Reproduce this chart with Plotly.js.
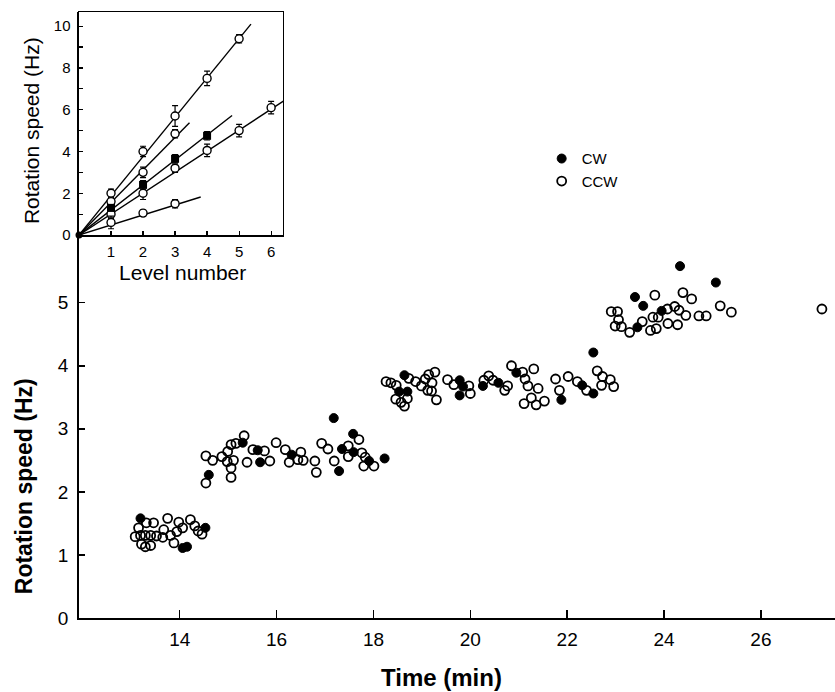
<!DOCTYPE html>
<html>
<head>
<meta charset="utf-8">
<script src="https://cdn.plot.ly/plotly-3.0.1.min.js"></script>
<style>html,body{margin:0;padding:0;background:#fff;}#chart{width:835px;height:692px;}</style>
</head>
<body>
<div id="chart"></div>
<script>
// ---- Main panel data (time in min, rotation speed in Hz) ----
const cwTime = [13.19, 14.53, 14.06, 14.15,
  14.60, 15.30, 15.61, 15.66, 16.31, 17.18, 17.29, 17.35, 17.58, 17.59, 17.91, 18.23,
  18.64, 18.53, 18.70, 19.78, 19.85, 19.78, 20.26, 20.58, 20.95, 21.88, 22.31, 22.54, 22.54,
  23.40, 23.57, 23.45, 23.95, 24.33, 25.07];
const cwSpeed = [1.58, 1.43, 1.11, 1.13,
  2.27, 2.78, 2.66, 2.47, 2.59, 3.17, 2.33, 2.68, 2.92, 2.63, 2.49, 2.53,
  3.85, 3.59, 3.59, 3.77, 3.67, 3.53, 3.68, 3.73, 3.89, 3.46, 3.69, 3.56, 4.21,
  5.09, 4.95, 4.61, 4.87, 5.58, 5.32];

const ccwTime = [13.31, 13.46, 13.75, 13.15, 13.08, 13.19, 13.29, 13.40, 13.52, 13.67, 13.65, 13.81,
  13.98, 13.94, 14.06, 14.22, 14.31, 14.38, 14.46, 13.21, 13.29, 13.40, 13.88,
  14.54, 14.54, 14.68, 14.87, 14.99, 15.06, 15.16, 15.33, 14.98, 15.11, 15.06, 15.06, 15.39,
  15.51, 15.75, 15.86, 15.99, 16.18, 16.26, 16.44, 16.50, 16.55, 16.79, 16.82, 16.93, 17.06,
  17.19, 17.48, 17.48, 17.70, 17.76, 17.83, 17.80, 18.01,
  18.26, 18.36, 18.47, 18.73, 18.87, 18.99, 19.07, 19.14, 19.27, 19.21, 19.12, 19.20, 19.30,
  18.46, 18.57, 18.70, 18.64, 19.53, 19.66, 19.97, 20.00, 20.28, 20.38, 20.47, 20.71, 20.77,
  20.85, 21.08, 21.13, 21.19, 21.31, 21.40, 21.26, 21.11, 21.36, 21.53, 21.76, 21.84, 22.02,
  22.21, 22.40, 22.62, 22.73, 22.71, 22.89, 22.96,
  22.91, 23.04, 23.06, 22.99, 23.12, 23.29, 23.55, 23.72, 23.84, 23.81, 23.77, 23.88, 24.07,
  24.22, 24.31, 24.45, 24.08, 24.28, 24.39, 24.57, 24.72, 24.87, 25.16, 25.39, 27.26];
const ccwSpeed = [1.51, 1.51, 1.58, 1.43, 1.29, 1.31, 1.31, 1.31, 1.30, 1.40, 1.28, 1.31,
  1.52, 1.37, 1.43, 1.56, 1.46, 1.38, 1.33, 1.17, 1.13, 1.15, 1.19,
  2.14, 2.57, 2.50, 2.56, 2.64, 2.75, 2.77, 2.89, 2.48, 2.50, 2.38, 2.23, 2.47,
  2.67, 2.65, 2.49, 2.78, 2.67, 2.47, 2.51, 2.63, 2.50, 2.49, 2.31, 2.77, 2.68,
  2.49, 2.73, 2.56, 2.83, 2.62, 2.55, 2.41, 2.41,
  3.75, 3.73, 3.69, 3.80, 3.75, 3.68, 3.79, 3.86, 3.90, 3.73, 3.61, 3.60, 3.46,
  3.47, 3.42, 3.48, 3.36, 3.78, 3.70, 3.68, 3.56, 3.77, 3.84, 3.77, 3.61, 3.68,
  4.00, 3.90, 3.79, 3.68, 3.95, 3.64, 3.49, 3.40, 3.38, 3.44, 3.79, 3.61, 3.83,
  3.75, 3.61, 3.92, 3.83, 3.69, 3.78, 3.67,
  4.86, 4.86, 4.73, 4.63, 4.62, 4.53, 4.70, 4.56, 4.59, 5.12, 4.77, 4.77, 4.90,
  4.94, 4.88, 4.80, 4.67, 4.65, 5.16, 5.06, 4.79, 4.79, 4.95, 4.85, 4.90];

const mainXTicks = [14, 16, 18, 20, 22, 24, 26];
const mainYTicks = [0, 1, 2, 3, 4, 5];

// ---- Inset data (level number vs rotation speed) ----
const levelsA = [1, 2, 3, 4, 5];
const speedA  = [2.0, 4.0, 5.7, 7.5, 9.4];
const errA    = [0.2, 0.25, 0.5, 0.35, 0.2];
const levelsB = [1, 2, 3];
const speedB  = [1.6, 3.0, 4.85];
const errB    = [0.2, 0.25, 0.2];
const levelsC = [1, 2, 3, 4];
const speedC  = [1.3, 2.4, 3.65, 4.75];
const errC    = [0.15, 0.2, 0.2, 0.2];
const levelsD = [1, 2, 3, 4, 5, 6];
const speedD  = [1.0, 2.0, 3.2, 4.05, 5.0, 6.1];
const errD    = [0.2, 0.3, 0.2, 0.3, 0.3, 0.3];
const levelsE = [1, 2, 3];
const speedE  = [0.6, 1.05, 1.5];
const errE    = [0.3, 0.15, 0.2];
// fitted lines through the origin: end points
const fitEndX = [5.37, 3.45, 4.78, 6.45, 3.8];
const fitEndY = [10.1, 5.38, 5.72, 6.48, 1.82];

const insetXTicks = [1, 2, 3, 4, 5, 6];
const insetYTicks = [0, 2, 4, 6, 8, 10];

const FONT = 'Liberation Sans, Arial, Helvetica, sans-serif';
const traces = [];

traces.push({
  x: cwTime, y: cwSpeed, type: 'scatter', mode: 'markers', name: 'CW',
  marker: {symbol: 'circle', size: 9, color: '#000', line: {color: '#000', width: 1}},
  xaxis: 'x', yaxis: 'y'
});
traces.push({
  x: ccwTime, y: ccwSpeed, type: 'scatter', mode: 'markers', name: 'CCW',
  marker: {symbol: 'circle-open', size: 9, color: '#000', line: {color: '#000', width: 1.8}},
  xaxis: 'x', yaxis: 'y'
});

// inset fit lines
for (let i = 0; i < fitEndX.length; i++) {
  traces.push({
    x: [0, fitEndX[i]], y: [0, fitEndY[i]], type: 'scatter', mode: 'lines',
    line: {color: '#000', width: 1.4}, showlegend: false, hoverinfo: 'skip',
    xaxis: 'x2', yaxis: 'y2'
  });
}
const insetSets = [
  [levelsA, speedA, errA, false],
  [levelsB, speedB, errB, false],
  [levelsD, speedD, errD, false],
  [levelsE, speedE, errE, false],
  [levelsC, speedC, errC, true]
];
insetSets.forEach(s => {
  traces.push({
    x: s[0], y: s[1], type: 'scatter', mode: 'markers', showlegend: false,
    error_y: {type: 'data', array: s[2], visible: true, color: '#000', thickness: 1.2, width: 3},
    marker: s[3] ? {symbol: 'square', size: 8, color: '#000'} :
                   {symbol: 'circle', size: 8, color: '#fff', line: {color: '#000', width: 1.4}},
    xaxis: 'x2', yaxis: 'y2'
  });
});
traces.push({
  x: [0], y: [0], type: 'scatter', mode: 'markers', showlegend: false,
  marker: {symbol: 'circle', size: 7, color: '#000'}, xaxis: 'x2', yaxis: 'y2', cliponaxis: false
});

const layout = {
  width: 835, height: 692,
  margin: {l: 79, r: 0, t: 12, b: 74.3, pad: 0},
  paper_bgcolor: '#fff', plot_bgcolor: 'rgba(0,0,0,0)',
  font: {family: FONT, color: '#000'},
  showlegend: true,
  legend: {x: 0.612, y: 0.785, xanchor: 'left', yanchor: 'top', bgcolor: 'rgba(0,0,0,0)',
           font: {size: 15, family: FONT}, itemsizing: 'trace'},
  xaxis: {
    range: [11.92, 27.53], tickmode: 'array', tickvals: mainXTicks, ticktext: mainXTicks.map(String),
    ticks: 'inside', ticklen: 8, tickwidth: 1.5, tickcolor: '#000',
    showline: true, linewidth: 1.8, linecolor: '#000', showgrid: false, zeroline: false,
    tickfont: {size: 19, family: FONT}, ticklabelstandoff: 3
  },
  yaxis: {
    range: [0, 9.61], tickmode: 'array', tickvals: mainYTicks, ticktext: mainYTicks.map(String),
    ticks: 'inside', ticklen: 6, tickwidth: 1.5, tickcolor: '#000',
    showline: true, linewidth: 1.8, linecolor: '#000', showgrid: false, zeroline: false,
    tickfont: {size: 19, family: FONT}, ticklabelstandoff: 5
  },
  xaxis2: {
    domain: [0, 0.2698], anchor: 'y2', range: [0, 6.37],
    tickmode: 'array', tickvals: insetXTicks, ticktext: insetXTicks.map(String),
    ticks: 'inside', ticklen: 4, tickwidth: 1.2, tickcolor: '#000',
    showline: true, mirror: true, linewidth: 1.5, linecolor: '#000', showgrid: false, zeroline: false,
    tickfont: {size: 15, family: FONT}, ticklabelstandoff: 2
  },
  yaxis2: {
    domain: [0.632, 1], anchor: 'x2', range: [0, 10.68],
    tickmode: 'array', tickvals: insetYTicks, ticktext: insetYTicks.map(String),
    ticks: 'inside', ticklen: 4, tickwidth: 1.2, tickcolor: '#000',
    minor: {tickvals: [1, 3, 5, 7, 9], ticks: 'inside', ticklen: 4, tickwidth: 1.2, tickcolor: '#000'},
    showline: true, mirror: true, linewidth: 1.5, linecolor: '#000', showgrid: false, zeroline: false,
    tickfont: {size: 15, family: FONT}, ticklabelstandoff: 4
  },
  annotations: [
    {text: '<b>Time (min)</b>', xref: 'paper', yref: 'paper', x: (441 - 79) / 756, y: (617.7 - 677) / 605.7,
     xanchor: 'center', yanchor: 'middle', showarrow: false, font: {size: 24, family: FONT}},
    {text: '<b>Rotation speed (Hz)</b>', xref: 'paper', yref: 'paper', x: (24 - 79) / 756, y: (617.7 - 486) / 605.7,
     xanchor: 'center', yanchor: 'middle', textangle: -90, showarrow: false, font: {size: 23, family: FONT}},
    {text: 'Level number', xref: 'paper', yref: 'paper', x: (182 - 79) / 756, y: (617.7 - 272) / 605.7,
     xanchor: 'center', yanchor: 'middle', showarrow: false, font: {size: 21, family: FONT}},
    {text: 'Rotation speed (Hz)', xref: 'paper', yref: 'paper', x: (31 - 79) / 756, y: (617.7 - 131) / 605.7,
     xanchor: 'center', yanchor: 'middle', textangle: -90, showarrow: false, font: {size: 21, family: FONT}}
  ]
};

Plotly.newPlot('chart', traces, layout, {displayModeBar: false, staticPlot: true});
</script>
</body>
</html>
